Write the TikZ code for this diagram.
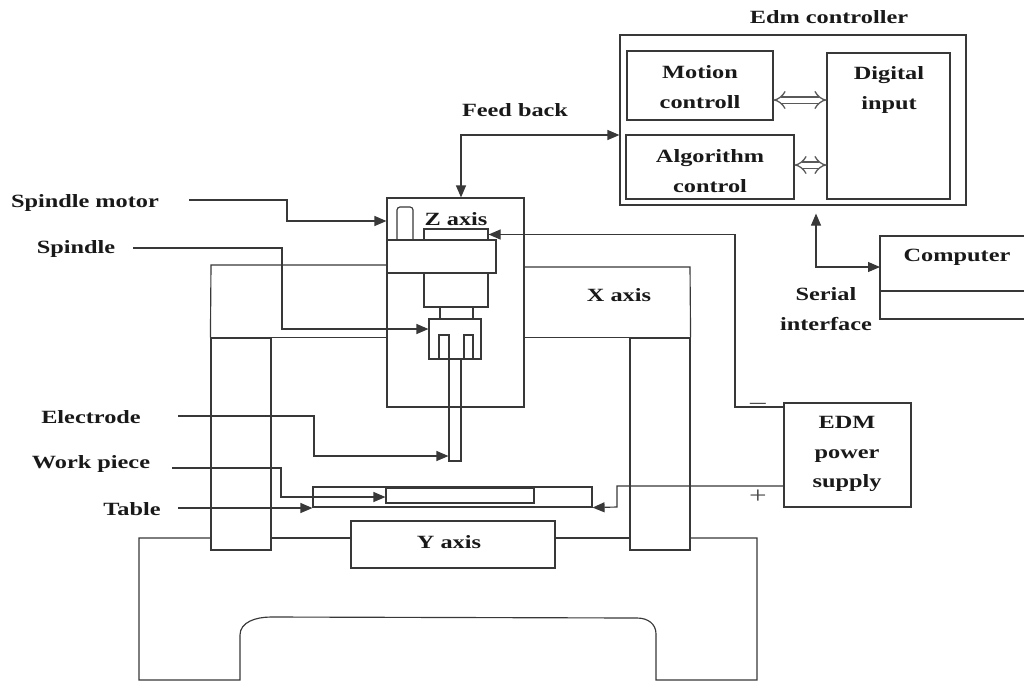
\documentclass[tikz,border=0pt]{standalone}
\usepackage{fontspec}
\setmainfont[FakeStretch=1.3]{Liberation Serif}
\usetikzlibrary{arrows.meta}

\tikzset{
    blk/.style={draw=black!78,line width=1.15pt,inner sep=0pt},
    lbl/.style={font=\fontsize{18.7}{29.5}\selectfont\bfseries,text=black!90,align=center,inner sep=0pt},
    wire/.style={draw=black!78,line width=1.15pt},
    tip/.style={-{Triangle[length=12pt,width=10pt]}},
    tips/.style={{Triangle[length=12pt,width=10pt]}-{Triangle[length=12pt,width=10pt]}},
    bus/.style={draw=black!65,double=white,double distance=5pt,line width=1.3pt,{Implies[]}-{Implies[]}},
}

\begin{document}
\begin{tikzpicture}[x=1pt,y=-1pt]
            \useasboundingbox (0,0) rectangle (1024,681);

            % controller
            \node[blk,minimum width=346pt,minimum height=170pt] (ctrl) at (793,120) {};
            \node[blk,minimum width=146pt,minimum height=69pt] (motion) at (700,85.5) {};
            \node[blk,minimum width=168pt,minimum height=64pt] (algo) at (710,167) {};
            \node[blk,minimum width=123pt,minimum height=146pt] (digital) at (888.5,126) {};
            \coordinate (busa) at (800,100);
            \coordinate (busb) at (810,165);
            \draw[bus] (busa -| motion.east) -- (busa -| digital.west);
            \draw[bus] (busb -| algo.east) -- (busb -| digital.west);

            % computer
            \coordinate (pca) at (1024,236);
            \coordinate (pcb) at (880,236);
            \coordinate (pcc) at (880,319);
            \coordinate (pcd) at (1024,319);
            \coordinate (pce) at (880,291);
            \coordinate (pcf) at (1024,291);
            \coordinate (pcin) at (880,267);
            \coordinate (serial) at (816,267);
            \draw[wire] (pca)--(pcb)--(pcc)--(pcd);
            \draw[wire] (pce)--(pcf);
            \draw[wire,tips] (ctrl.south -| serial) ++(0,8) -- (serial) -- (pcin);

            % z axis head
            \node[blk,minimum width=137pt,minimum height=209pt] (zaxis) at (455.5,302.5) {};
            \node[blk,minimum width=64pt,minimum height=11pt] (servo) at (456,234.5) {};
            \node[blk,minimum width=109pt,minimum height=33pt] (band) at (441.5,256.5) {};
            \node[blk,minimum width=64pt,minimum height=34pt] (lower) at (456,290) {};
            \node[blk,minimum width=52pt,minimum height=40pt] (chuck) at (455,339) {};
            \node[blk,minimum width=10pt,minimum height=24pt] (slota) at (444,347) {};
            \node[blk,minimum width=9pt,minimum height=24pt] (slotb) at (468.5,347) {};
            \node[blk,minimum width=12pt,minimum height=102pt] (electrode) at (455,410) {};
            \draw[wire,rounded corners=3pt] (397,240)--(397,207)--(413,207)--(413,240);
            \draw[wire] (440,307)--(440,319);
            \draw[wire] (473,307)--(473,319);

            % frame
            \node[blk,minimum width=60pt,minimum height=212pt] (lcol) at (241,444) {};
            \node[blk,minimum width=60pt,minimum height=212pt] (rcol) at (660,444) {};
            \draw[wire] (lcol.north west)--(211,265)--(387,265);
            \draw[wire] (lcol.north west)--(zaxis.west |- lcol.north);
            \draw[wire] (rcol.north east)--(690,267)--(524,267);
            \draw[wire] (rcol.north west)--(zaxis.east |- rcol.north);

            % table
            \node[blk,minimum width=279pt,minimum height=20pt] (table) at (452.5,497) {};
            \node[blk,minimum width=148pt,minimum height=15pt] (work) at (460,495.5) {};
            \node[blk,minimum width=204pt,minimum height=47pt] (ybox) at (453,544.5) {};

            % base
            \coordinate (basea) at (211,538);
            \coordinate (baseb) at (139,538);
            \coordinate (basec) at (139,680);
            \coordinate (based) at (240,680);
            \coordinate (basee) at (656,680);
            \coordinate (basef) at (757,680);
            \coordinate (baseg) at (757,538);
            \coordinate (baseh) at (690,538);
            \draw[wire] (basea)--(baseb)--(basec)--(based)--(240,635)
                .. controls (240,622) and (256,617) .. (271,617)
                --(637,618) .. controls (648,618) and (656,624) .. (656,634)
                --(basee)--(basef)--(baseg)--(baseh);
            \draw[wire] (271,538)--(ybox.west |- 0,538);
            \draw[wire] (ybox.east |- 0,538)--(630,538);

            % power supply
            \node[blk,minimum width=127pt,minimum height=104pt] (edm) at (847.5,455) {};
            \coordinate (nega) at (735,407);
            \coordinate (negb) at (735,234.5);
            \coordinate (posa) at (617,486);
            \coordinate (posb) at (617,507);
            \draw[wire,tip] (edm.west |- nega)--(nega)--(negb)--(servo.east);
            \draw[wire,tip] (edm.west |- posa)--(posa)--(posb)--(table.south east);

            % feedback
            \coordinate (fbk) at (461,135);
            \draw[wire,tips] (zaxis.north -| fbk)--(fbk)--(fbk -| ctrl.west);

            % callouts
            \coordinate (mota) at (189,200);
            \coordinate (motb) at (287,200);
            \coordinate (motc) at (287,221);
            \draw[wire,tip] (mota)--(motb)--(motc)--(motc -| zaxis.west);
            \coordinate (spia) at (133,248);
            \coordinate (spib) at (282,248);
            \coordinate (spic) at (282,329);
            \draw[wire,tip] (spia)--(spib)--(spic)--(spic -| chuck.west);
            \coordinate (elea) at (178,416);
            \coordinate (eleb) at (314,416);
            \coordinate (elec) at (314,456);
            \draw[wire,tip] (elea)--(eleb)--(elec)--(elec -| electrode.west);
            \coordinate (wrka) at (172,468);
            \coordinate (wrkb) at (281,468);
            \coordinate (wrkc) at (281,497);
            \draw[wire,tip] (wrka)--(wrkb)--(wrkc)--(wrkc -| work.west);
            \coordinate (taba) at (178,508);
            \draw[wire,tip] (taba)--(taba -| table.west);

            % labels
            \node[lbl] (ctrltxt) at (829,17) {Edm controller};
            \node[lbl] (motiontxt) at (700,87) {Motion\\controll};
            \node[lbl] (algotxt) at (710,171) {Algorithm\\control};
            \node[lbl] (digitaltxt) at (889,90) {Digital\\input};
            \node[lbl] (fbktxt) at (515,110) {Feed back};
            \node[lbl] (pctxt) at (957,257) {Computer};
            \node[lbl] (serialtxt) at (826,309) {Serial\\interface};
            \node[lbl] (edmtxt) at (847,454) {EDM\\power\\supply};
            \node[lbl] (motortxt) at (85,203) {Spindle motor};
            \node[lbl] (spindletxt) at (76,249) {Spindle};
            \node[lbl] (eletxt) at (91,417) {Electrode};
            \node[lbl] (worktxt) at (91,464) {Work piece};
            \node[lbl] (tabletxt) at (132,509) {Table};
            \node[lbl] (ztxt) at (456,219) {Z axis};
            \node[lbl] (xtxt) at (619,295) {X axis};
            \node[lbl] (ytxt) at (449,542) {Y axis};
            \node[font=\fontsize{24}{24}\selectfont,text=black!70,inner sep=0pt] (minus) at (758,406) {--};
            \node[font=\fontsize{24}{24}\selectfont,text=black!70,inner sep=0pt] (plus) at (758,497) {+};
        \end{tikzpicture}
\end{document}
